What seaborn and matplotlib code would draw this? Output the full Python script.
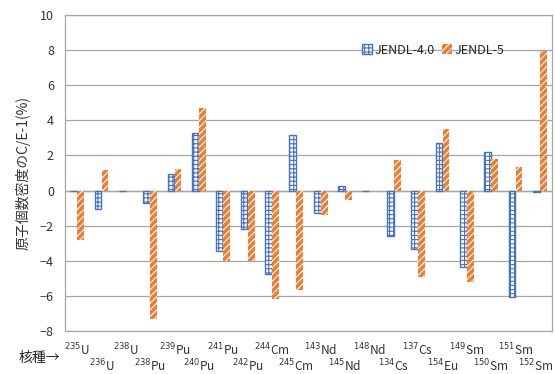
"""
核種ごとの原子個数密度 C/E-1 (%) : JENDL-4.0 と JENDL-5 の比較棒グラフ
"""

import matplotlib
matplotlib.use("Agg")
import matplotlib.pyplot as plt
import matplotlib.patches as mpatches
import matplotlib.transforms as mtransforms
import pandas as pd
import seaborn as sns

# 核種 (質量数, 元素)
MASS = ["235", "236", "238", "238", "239", "240", "241", "242", "244", "245",
        "143", "145", "148", "134", "137", "154", "149", "150", "151", "152"]
ELEM = ["U", "U", "U", "Pu", "Pu", "Pu", "Pu", "Pu", "Cm", "Cm",
        "Nd", "Nd", "Nd", "Cs", "Cs", "Eu", "Sm", "Sm", "Sm", "Sm"]

JENDL4 = [0.0, -1.05, 0.0, -0.7, 0.94, 3.3, -3.42, -2.17, -4.73, 3.19,
          -1.27, 0.25, 0.0, -2.6, -3.33, 2.69, -4.35, 2.17, -6.06, -0.1]
JENDL5 = [-2.79, 1.19, 0.0, -7.3, 1.23, 4.7, -4.04, -4.0, -6.19, -5.67,
          -1.38, -0.56, 0.0, 1.73, -4.92, 3.5, -5.19, 1.77, 1.33, 7.95]

LIBS = ["JENDL-4.0", "JENDL-5"]
BLUE = "#4472C4"
ORANGE = "#ED7D31"
GRID = "#A6A6A6"

FONT = ["Noto Sans CJK JP", "DejaVu Sans"]


def main():
    keys = [f"{m}{e}{i}" for i, (m, e) in enumerate(zip(MASS, ELEM))]
    df = pd.DataFrame({
        "nuclide": keys * 2,
        "value": JENDL4 + JENDL5,
        "lib": [LIBS[0]] * len(keys) + [LIBS[1]] * len(keys),
    })

    sns.set_style("white")
    plt.rcParams["font.family"] = FONT
    plt.rcParams["hatch.linewidth"] = 0.8

    fig = plt.figure(figsize=(5.55, 3.74), dpi=100)
    ax = fig.add_axes([0.1171, 0.115, 0.8775, 0.845])

    sns.barplot(data=df, x="nuclide", y="value", hue="lib", order=keys,
                hue_order=LIBS, palette=[BLUE, ORANGE], width=0.58, gap=0.04,
                legend=False, ax=ax)

    # JENDL-4.0: 白地に青の格子, JENDL-5: 橙地に白の斜線
    for p in ax.containers[0]:
        p.set_facecolor("white")
        p.set_edgecolor(BLUE)
        p.set_linewidth(1.0)
        p.set_hatch("++++")
    for p in ax.containers[1]:
        p.set_facecolor(ORANGE)
        p.set_edgecolor("white")
        p.set_linewidth(0)
        p.set_hatch("/////")

    ax.set_ylim(-8, 10)
    ax.set_yticks(range(-8, 11, 2))
    ax.yaxis.grid(True, color=GRID, linewidth=0.9)
    ax.set_axisbelow(True)
    ax.axhline(0, color=GRID, linewidth=1.0, zorder=0.5)
    for s in ax.spines.values():
        s.set_color(GRID)
        s.set_linewidth(0.9)
    ax.tick_params(axis="both", length=0, labelsize=9, colors="#333333")
    ax.tick_params(axis="y", pad=8)

    labels = [rf"$^{{{m}}}${e}" for m, e in zip(MASS, ELEM)]
    ax.set_xticks(range(len(keys)))
    ax.set_xticklabels(labels, fontsize=8.6)
    for i, t in enumerate(ax.xaxis.get_major_ticks()):
        t.set_pad(8 if i % 2 == 0 else 19.5)
    # 右端のラベルが切れないよう少し左へ
    last = ax.get_xticklabels()[-1]
    last.set_transform(last.get_transform() + mtransforms.ScaledTranslation(
        -3 / 72, 0, fig.dpi_scale_trans))
    ax.set_xlabel("")
    ax.set_ylabel("原子個数密度のC/E-1(%)", fontsize=10, color="#333333",
                  labelpad=7)

    fig.text(0.033, 0.043, "核種→", fontsize=10, color="#222222",
             va="center", ha="left")

    h4 = mpatches.Patch(facecolor="white", edgecolor=BLUE, hatch="++++",
                        linewidth=1.0, label=LIBS[0])
    h5 = mpatches.Patch(facecolor=ORANGE, edgecolor="white", hatch="/////",
                        linewidth=0, label=LIBS[1])
    ax.legend(handles=[h4, h5], loc="upper right", bbox_to_anchor=(0.925, 0.945),
              ncol=2, frameon=False, fontsize=9, handlelength=0.8,
              handleheight=0.8, handletextpad=0.2, columnspacing=0.6)

    fig.savefig("out.png", dpi=100)
    plt.close(fig)


if __name__ == "__main__":
    main()
